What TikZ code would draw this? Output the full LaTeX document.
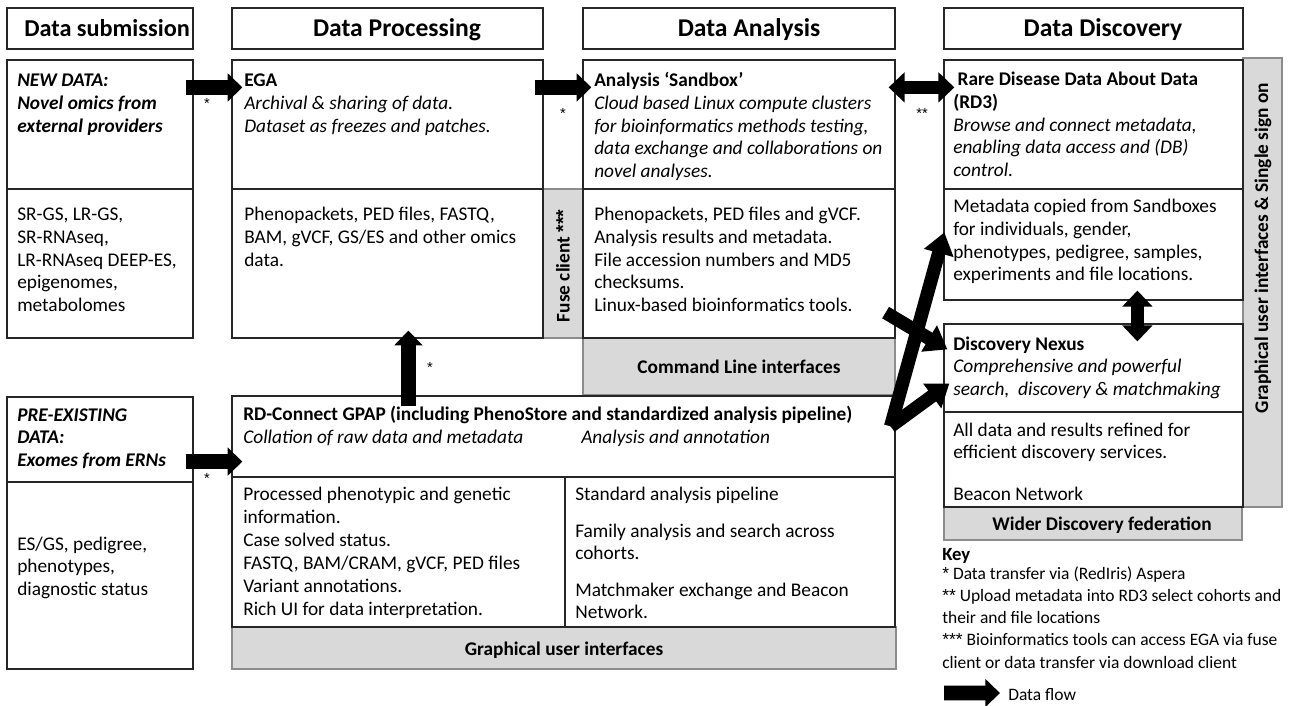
\documentclass[tikz,border=0pt]{standalone}
\usepackage{fontspec}
\setmainfont{Carlito}
\newfontfamily\astfont{Liberation Sans}
\usetikzlibrary{arrows.meta,calc,fit}
\newcommand\fbody{\fontsize{14.5}{16.9}\selectfont}
\newcommand\fhead{\fontsize{19.2}{22}\selectfont\bfseries}
\newcommand\fkey{\fontsize{13.1}{16.7}\selectfont}
\newcommand\fstar{\fontsize{11}{13}\selectfont\astfont}
\newcommand\stars[1]{{\astfont #1}}
\newcommand\bx[6]{\node[#1, fit={(#3,#4) (#5,#6)}] (#2) {};}
\definecolor{boxgray}{HTML}{D9D9D9}
\definecolor{edgegray}{HTML}{8C8C8C}
\definecolor{linec}{HTML}{262626}
\begin{document}
\begin{tikzpicture}[x=0.75pt,y=-0.75pt,
  box/.style={draw=linec, line width=0.9pt, inner sep=0pt},
  gbox/.style={draw=edgegray, fill=boxgray, line width=0.8pt, inner sep=0pt},
  txt/.style={anchor=base west, inner sep=0pt, align=flush left, text width=700pt, font=\fbody},
  hd/.style={anchor=base, inner sep=0pt, font=\fhead},
  lbl/.style={anchor=base, inner sep=0pt, font=\fbody\bfseries},
  star/.style={inner sep=0pt, font=\fstar},
  flow/.style={line width=11pt, -{Triangle[length=11pt, width=20.5pt]}},
  flowtwo/.style={line width=10pt, {Triangle[length=12pt, width=22pt]}-{Triangle[length=12pt, width=22pt]}},
  dflow/.style={line width=10pt, -{Triangle[length=16pt, width=22pt]}}]
\useasboundingbox[fill=white] (0,0) rectangle (1293,706);

% gray panels
\bx{gbox}{fuse}{543}{189}{583}{338}
\bx{gbox}{cli}{583}{338}{895}{395}
\bx{gbox}{guistrip}{1243}{58}{1282}{507}
\bx{gbox}{wider}{944}{507}{1242}{540}
\bx{gbox}{gpapgui}{232}{627}{896}{669}

% header boxes
\bx{box}{hsub}{7}{8}{193}{49}
\bx{box}{hproc}{232}{8}{543}{49}
\bx{box}{hana}{583}{8}{895}{49}
\bx{box}{hdisc}{944}{8}{1243}{49}

% content boxes
\bx{box}{newtop}{7}{60}{193}{189}
\bx{box}{newlow}{7}{189}{193}{338}
\bx{box}{ega}{232}{60}{543}{189}
\bx{box}{egalow}{232}{189}{543}{338}
\bx{box}{sandbox}{583}{60}{895}{189}
\bx{box}{sandlow}{583}{189}{895}{338}
\bx{box}{rd3}{944}{60}{1243}{189}
\bx{box}{rd3low}{944}{189}{1243}{300}
\bx{box}{nexus}{944}{324}{1243}{412}
\bx{box}{nexuslow}{944}{412}{1243}{507}
\bx{box}{pretop}{7}{397}{193}{482}
\bx{box}{prelow}{7}{482}{193}{669}
\bx{box}{gpap}{232}{396}{895}{477}
\bx{box}{gpapl}{232}{477}{565}{627}
\bx{box}{gpapr}{565}{477}{895}{627}

% headers
\begin{scope}
\clip (hsub.south west) rectangle ([xshift=-0.6pt]hsub.north east);
\node[hd, anchor=base west, font=\fontsize{18.2}{22}\selectfont\bfseries] (thsub) at (24,37) {Data submission};
\end{scope}
\node[hd] (thproc) at (397,37) {Data Processing};
\node[hd] (thana) at (749,37) {Data Analysis};
\node[hd] (thdisc) at (1103,37) {Data Discovery};

% texts
\node[txt, font=\fbody\bfseries\itshape] (tnew) at (17,87) {NEW DATA:\\Novel omics from\\external providers};
\node[txt] (tnewlow) at (17,221) {SR-GS, LR-GS,\\SR-RNAseq,\\LR-RNAseq DEEP-ES,\\epigenomes,\\metabolomes};
\node[txt] (tega) at (244,87) {\textbf{EGA}\\\textit{Archival \& sharing of data.}\\\textit{Dataset as freezes and patches.}};
\node[txt] (tegalow) at (244,221) {Phenopackets, PED files, FASTQ,\\BAM, gVCF, GS/ES and other omics\\data.};
\node[txt] (tsand) at (594,87) {\textbf{Analysis ‘Sandbox’}\\\textit{Cloud based Linux compute clusters}\\\textit{for bioinformatics methods testing,}\\\textit{data exchange and collaborations on}\\\textit{novel analyses.}};
\node[txt] (tsandlow) at (594,221) {Phenopackets, PED files and gVCF.\\Analysis results and metadata.\\File accession numbers and MD5\\checksums.\\Linux-based bioinformatics tools.};
\node[lbl] (tcli) at (739,373) {Command Line interfaces};
\node[lbl, rotate=90, anchor=center] (tfuse) at (563,266) {Fuse client \stars{***}};
\node[txt] (trd3) at (953,86) {\textbf{\ Rare Disease Data About Data}\\\textbf{(RD3)}\\\textit{Browse and connect metadata,}\\\textit{enabling data access and (DB)}\\\textit{control.}};
\node[txt] (trd3low) at (953,213) {Metadata copied from Sandboxes\\for individuals, gender,\\phenotypes, pedigree, samples,\\experiments and file locations.};
\node[txt] (tnexus) at (953,350) {\textbf{Discovery Nexus}\\\textit{Comprehensive and powerful}\\\textit{search,\ \ discovery \& matchmaking}};
\node[txt] (tnexuslow) at (953,436) {All data and results refined for\\efficient discovery services.};
\node[txt] (tbeacon) at (953,500) {Beacon Network};
\node[lbl] (twider) at (1102,530) {Wider Discovery federation};
\node[font=\fbody\bfseries, rotate=90, inner sep=0pt] (tgui) at (1263,248) {Graphical user interfaces \& Single sign on};

\node[txt, font=\fbody\bfseries\itshape] (tpre) at (17,421) {PRE-EXISTING\\DATA:\\Exomes from ERNs};
\node[txt] (tprelow) at (17,550) {ES/GS, pedigree,\\phenotypes,\\diagnostic status};
\node[txt] (tgpap) at (243,420) {\textbf{RD-Connect GPAP (including PhenoStore and standardized analysis pipeline)}};
\node[txt, font=\fbody\itshape] (tcoll) at (243,443) {Collation of raw data and metadata};
\node[txt, font=\fbody\itshape] (tannot) at (581,443) {Analysis and annotation};
\node[txt, font=\fontsize{14.5}{17.3}\selectfont] (tgpapl) at (243,500) {Processed phenotypic and genetic\\information.\\Case solved status.\\FASTQ, BAM/CRAM, gVCF, PED files\\Variant annotations.\\Rich UI for data interpretation.};
\node[txt] (tstd) at (575,500) {Standard analysis pipeline};
\node[txt] (tfam) at (575,537) {Family analysis and search across\\cohorts.};
\node[txt] (tmatch) at (575,596) {Matchmaker exchange and Beacon\\Network.};
\node[lbl] (tgpapgui) at (564,655) {Graphical user interfaces};

% stars
\node[star] (s1) at (207,103) {*};
\node[star] (s2) at (563,113) {*};
\node[star] (s3) at (922,113) {**};
\node[star] (s4) at (430,367) {*};
\node[star] (s5) at (207,478) {*};

% key
\node[anchor=base west, inner sep=0pt, font=\fontsize{14}{17}\selectfont\bfseries] (tkey) at (942,560) {Key};
\node[txt, font=\fkey] (tkeytxt) at (942,579) {\stars{*} Data transfer via (RedIris) Aspera\\\stars{**} Upload metadata into RD3 select cohorts and\\their and file locations\\\stars{***} Bioinformatics tools can access EGA via fuse\\client or data transfer via download client};
\node[anchor=base west, inner sep=0pt, font=\fkey] (tflow) at (1008,700) {Data flow};
\coordinate (kstart) at (944,693);

% arrows
\draw[flow] ($(newtop.north east)+(-8,28)$) -- ($(ega.north west)+(11,28)$);
\draw[flow] ($(ega.north east)+(-9,28)$) -- ($(sandbox.north west)+(9,28)$);
\draw[flowtwo] ($(sandbox.north east)+(-7,28)$) -- ($(rd3.north west)+(11,28)$);
\draw[flow] ($(gpap.north west)+(177,11)$) -- ($(egalow.south west)+(177,-8)$);
\draw[flow] ($(pretop.south east)+(-8,-21)$) -- ($(gpap.south west)+(11,-16)$);
\draw[dflow] ($(sandlow.south east)+(-10,-26)$) -- ($(nexus.north west)+(4,26)$);
\draw[dflow] ($(gpap.north east)+(-5,31)$) -- ($(rd3low.north west)+(1,44)$);
\draw[dflow] ($(gpap.north east)+(-5,31)$) -- ($(nexus.north west)+(6,60)$);
\draw[flowtwo] ($(rd3low.south west)+(194,-10)$) -- ($(nexus.north west)+(194,18)$);
\draw[flow] (kstart) -- ($(tflow.west)+(-8,-1)$);
\end{tikzpicture}
\end{document}
